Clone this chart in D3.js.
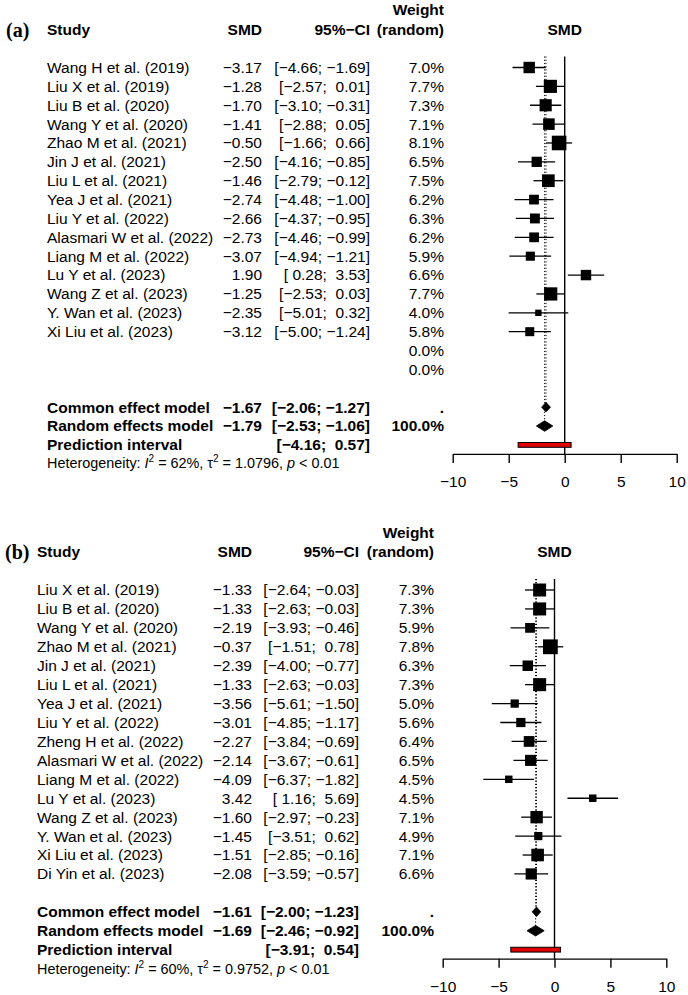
<!DOCTYPE html>
<html><head><meta charset="utf-8">
<script src="https://cdn.jsdelivr.net/npm/d3@7"></script>
<style>
html,body{margin:0;padding:0;background:#fff;}
svg text{font-family:"Liberation Sans",Arial,sans-serif;fill:#000;white-space:pre;}
</style></head>
<body>
<svg id="chart" width="688" height="995"></svg>
<script>
// ---------- Panel (a) data ----------
const studiesA = ["Wang H et al. (2019)","Liu X et al. (2019)","Liu B et al. (2020)","Wang Y et al. (2020)","Zhao M et al. (2021)","Jin J et al. (2021)","Liu L et al. (2021)","Yea J et al. (2021)","Liu Y et al. (2022)","Alasmari W et al. (2022)","Liang M et al. (2022)","Lu Y et al. (2023)","Wang Z et al. (2023)","Y. Wan et al. (2023)","Xi Liu et al. (2023)","",""];
const smdA    = [-3.17,-1.28,-1.70,-1.41,-0.50,-2.50,-1.46,-2.74,-2.66,-2.73,-3.07,1.90,-1.25,-2.35,-3.12,null,null];
const lowerA  = [-4.66,-2.57,-3.10,-2.88,-1.66,-4.16,-2.79,-4.48,-4.37,-4.46,-4.94,0.28,-2.53,-5.01,-5.00,null,null];
const upperA  = [-1.69,0.01,-0.31,0.05,0.66,-0.85,-0.12,-1.00,-0.95,-0.99,-1.21,3.53,0.03,0.32,-1.24,null,null];
const weightA = [7.0,7.7,7.3,7.1,8.1,6.5,7.5,6.2,6.3,6.2,5.9,6.6,7.7,4.0,5.8,0.0,0.0];
const commonA = [-1.67,-2.06,-1.27];
const randomA = [-1.79,-2.53,-1.06];
const predA   = [-4.16,0.57];
const hetA    = ["62%","1.0796","0.01"];

// ---------- Panel (b) data ----------
const studiesB = ["Liu X et al. (2019)","Liu B et al. (2020)","Wang Y et al. (2020)","Zhao M et al. (2021)","Jin J et al. (2021)","Liu L et al. (2021)","Yea J et al. (2021)","Liu Y et al. (2022)","Zheng H et al. (2022)","Alasmari W et al. (2022)","Liang M et al. (2022)","Lu Y et al. (2023)","Wang Z et al. (2023)","Y. Wan et al. (2023)","Xi Liu et al. (2023)","Di Yin et al. (2023)"];
const smdB    = [-1.33,-1.33,-2.19,-0.37,-2.39,-1.33,-3.56,-3.01,-2.27,-2.14,-4.09,3.42,-1.60,-1.45,-1.51,-2.08];
const lowerB  = [-2.64,-2.63,-3.93,-1.51,-4.00,-2.63,-5.61,-4.85,-3.84,-3.67,-6.37,1.16,-2.97,-3.51,-2.85,-3.59];
const upperB  = [-0.03,-0.03,-0.46,0.78,-0.77,-0.03,-1.50,-1.17,-0.69,-0.61,-1.82,5.69,-0.23,0.62,-0.16,-0.57];
const weightB = [7.3,7.3,5.9,7.8,6.3,7.3,5.0,5.6,6.4,6.5,4.5,4.5,7.1,4.9,7.1,6.6];
const commonB = [-1.61,-2.00,-1.23];
const randomB = [-1.69,-2.46,-0.92];
const predB   = [-3.91,0.54];
const hetB    = ["60%","0.9752","0.01"];

const xTicks = [-10,-5,0,5,10];
const xDomain = [-10,10];

const svg = d3.select("#chart");
const f2 = d3.format(".2f");
const f1 = d3.format(".1f");
const padNum = v => v < 0 ? f2(v) : " " + f2(v);
const ciStr = (lo,hi) => "[" + padNum(lo) + "; " + padNum(hi) + "]";

// common-effect (inverse variance) weight drives square size
const fixedW = (lo,hi) => { const se = (hi-lo)/3.92; return 1/(se*se); };
const allW = [];
lowerA.forEach((l,i)=>{ if(l!==null) allW.push(fixedW(l,upperA[i])); });
lowerB.forEach((l,i)=>{ if(l!==null) allW.push(fixedW(l,upperB[i])); });
const boxScale = d3.scaleSqrt().domain([0, d3.max(allW)]).range([0, 14.8]);

function panel(cfg){
  const g = svg.append("g");
  const FS = 15.5;
  const y = i => cfg.y0 + i*cfg.step;
  const x = d3.scaleLinear().domain(xDomain).range(cfg.xr);
  const n = cfg.studies.length;
  const iCommon = n + 1, iRandom = n + 2, iPred = n + 3;
  const hY = cfg.y0 - 38;

  const txt = (xx, yy, s, anchor, bold, size) => g.append("text")
    .attr("x", xx).attr("y", yy).attr("dy","0.35em")
    .attr("text-anchor", anchor||"start")
    .attr("font-size", size||FS)
    .attr("font-weight", bold ? "bold" : "normal")
    .text(s);

  // panel label
  g.append("text").attr("x", cfg.labelX).attr("y", hY).attr("dy","0.35em")
    .attr("font-size", 20).attr("font-weight","bold")
    .style("font-family","'Liberation Serif','Times New Roman',serif")
    .text(cfg.label);

  // headers
  txt(cfg.cStudy, hY, "Study", "start", true);
  txt(cfg.cSmd, hY, "SMD", "end", true);
  txt(cfg.cCi, hY, "95%\u2212CI", "end", true);
  txt(cfg.cW, hY - 19.5, "Weight", "end", true);
  txt(cfg.cW, hY, "(random)", "end", true);
  txt(x(0), hY, "SMD", "middle", true);

  // study rows
  cfg.studies.forEach((s,i)=>{
    txt(cfg.cStudy, y(i), s, "start");
    if (cfg.smd[i] !== null) {
      txt(cfg.cSmd, y(i), f2(cfg.smd[i]), "end");
      txt(cfg.cCi, y(i), ciStr(cfg.lower[i], cfg.upper[i]), "end");
    }
    txt(cfg.cW, y(i), f1(cfg.weight[i]) + "%", "end");
  });

  // summary text
  txt(cfg.cStudy, y(iCommon), "Common effect model", "start", true);
  txt(cfg.cSmd, y(iCommon), f2(cfg.common[0]), "end", true);
  txt(cfg.cCi, y(iCommon), ciStr(cfg.common[1], cfg.common[2]), "end", true);
  txt(cfg.cW, y(iCommon), ".", "end", true);
  txt(cfg.cStudy, y(iRandom), "Random effects model", "start", true);
  txt(cfg.cSmd, y(iRandom), f2(cfg.random[0]), "end", true);
  txt(cfg.cCi, y(iRandom), ciStr(cfg.random[1], cfg.random[2]), "end", true);
  txt(cfg.cW, y(iRandom), "100.0%", "end", true);
  txt(cfg.cStudy, y(iPred), "Prediction interval", "start", true);
  txt(cfg.cCi, y(iPred), ciStr(cfg.pred[0], cfg.pred[1]), "end", true);

  // heterogeneity
  const ht = g.append("text").attr("x", cfg.cStudy).attr("y", y(iPred) + cfg.hetGap)
    .attr("dy","0.35em").attr("font-size", 14.4);
  ht.append("tspan").text("Heterogeneity: ");
  ht.append("tspan").attr("font-style","italic").text("I");
  ht.append("tspan").attr("font-size", 10).attr("dy", -6).text("2");
  ht.append("tspan").attr("dy", 6).text(" = " + cfg.het[0] + ", \u03C4");
  ht.append("tspan").attr("font-size", 10).attr("dy", -6).text("2");
  ht.append("tspan").attr("dy", 6).text(" = " + cfg.het[1] + ", ");
  ht.append("tspan").attr("font-style","italic").text("p");
  ht.append("tspan").text(" < " + cfg.het[2]);

  const topY = cfg.y0 - 11;
  const axisY = y(iPred) + 9;

  // reference lines
  g.append("line").attr("x1", x(cfg.common[0])).attr("x2", x(cfg.common[0]))
    .attr("y1", topY).attr("y2", y(iCommon))
    .attr("stroke","#000").attr("stroke-width",1).attr("stroke-dasharray","1.2,2");
  g.append("line").attr("x1", x(cfg.random[0])).attr("x2", x(cfg.random[0]))
    .attr("y1", topY).attr("y2", y(iRandom))
    .attr("stroke","#000").attr("stroke-width",1).attr("stroke-dasharray","1.2,2");
  g.append("line").attr("x1", x(0)).attr("x2", x(0))
    .attr("y1", topY).attr("y2", axisY)
    .attr("stroke","#000").attr("stroke-width",1.4);

  // CI lines and squares
  cfg.studies.forEach((s,i)=>{
    if (cfg.smd[i] === null) return;
    g.append("line").attr("x1", x(cfg.lower[i])).attr("x2", x(cfg.upper[i]))
      .attr("y1", y(i)).attr("y2", y(i)).attr("stroke","#000").attr("stroke-width",1.3);
    const side = boxScale(fixedW(cfg.lower[i], cfg.upper[i]));
    g.append("rect").attr("x", x(cfg.smd[i]) - side/2).attr("y", y(i) - side/2)
      .attr("width", side).attr("height", side).attr("fill","#000");
  });

  // diamonds
  const diamond = (est, lo, hi, yy, h) => g.append("path")
    .attr("d", `M${x(lo)},${yy} L${x(est)},${yy-h} L${x(hi)},${yy} L${x(est)},${yy+h} Z`)
    .attr("fill","#000").attr("stroke","#000").attr("stroke-width",0.8);
  diamond(cfg.common[0], cfg.common[1], cfg.common[2], y(iCommon), 4.8);
  diamond(cfg.random[0], cfg.random[1], cfg.random[2], y(iRandom), 5.3);

  // prediction interval
  g.append("rect").attr("x", x(cfg.pred[0])).attr("y", y(iPred) - 2.4)
    .attr("width", x(cfg.pred[1]) - x(cfg.pred[0])).attr("height", 4.8)
    .attr("fill","#e00000").attr("stroke","#000").attr("stroke-width",1);

  // axis
  const ax = g.append("g").attr("transform", `translate(0,${axisY})`)
    .call(d3.axisBottom(x).tickValues(xTicks).tickSize(9).tickSizeOuter(0).tickPadding(13)
      .tickFormat(d3.format("d")));
  ax.select(".domain").attr("stroke","#000").attr("stroke-width",1.4);
  ax.selectAll(".tick line").attr("stroke","#000").attr("stroke-width",1.4);
  ax.selectAll(".tick text").attr("font-size", FS).attr("fill","#000")
    .style("font-family","'Liberation Sans',Arial,sans-serif");
}

panel({label:"(a)", labelX:6, y0:67.5, step:18.87, xr:[452.7,676.7],
  cStudy:47, cSmd:262, cCi:370, cW:444, hetGap:18.5,
  studies:studiesA, smd:smdA, lower:lowerA, upper:upperA, weight:weightA,
  common:commonA, random:randomA, pred:predA, het:hetA});

panel({label:"(b)", labelX:5, y0:590, step:18.93, xr:[442.7,666.3],
  cStudy:37, cSmd:252, cCi:359, cW:434, hetGap:18.8,
  studies:studiesB, smd:smdB, lower:lowerB, upper:upperB, weight:weightB,
  common:commonB, random:randomB, pred:predB, het:hetB});
</script>
</body></html>
